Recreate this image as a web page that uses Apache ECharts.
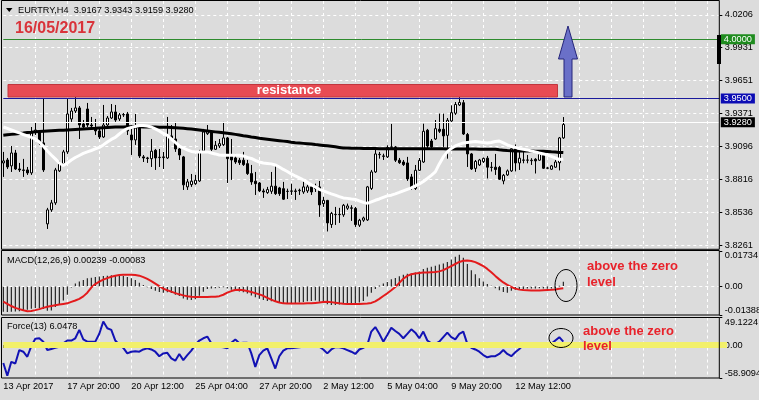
<!DOCTYPE html>
<html>
<head>
<meta charset="utf-8">
<script src="https://cdn.jsdelivr.net/npm/echarts@6.0.0/dist/echarts.min.js"></script>
<style>html,body{margin:0;padding:0;background:#dcdcdc;}#c{width:759px;height:400px;}</style>
</head>
<body>
<div id="c"></div>
<script>
// ---- data (EURTRY H4) ----
const tickLabels = ["13 Apr 2017","17 Apr 20:00","20 Apr 12:00","25 Apr 04:00","27 Apr 20:00","2 May 12:00","5 May 04:00","9 May 20:00","12 May 12:00"];
const priceTicks = [4.0206, 3.9931, 3.9651, 3.9371, 3.9096, 3.8816, 3.8536, 3.8261];
const macdTicks = [-0.01388, 0, 0.01734];
const forceTicks = [-58.9094, 0, 49.1224];
const levelTarget = 4.0000;
const levelResistance = 3.9500;
const lastPrice = 3.9280;

// [open, close, low, high]
const candles = [
[3.8956,3.8973,3.8838,3.9049],[3.8981,3.8922,3.8905,3.8998],[3.8931,3.9040,3.8880,3.9099],[3.9040,3.8905,3.8897,3.9066],
[3.8905,3.8897,3.8880,3.8956],[3.8897,3.8893,3.8838,3.8990],[3.8897,3.8872,3.8855,3.8922],[3.8872,3.9209,3.8855,3.9259],
[3.9217,3.9234,3.9192,3.9293],[3.9217,3.9125,3.9108,3.9234],[3.9125,3.8897,3.8880,3.9504],[3.8442,3.8560,3.8399,3.8577],
[3.8560,3.8619,3.8543,3.8644],[3.8619,3.8897,3.8602,3.8914],[3.8889,3.8956,3.8880,3.8973],[3.8948,3.9049,3.8939,3.9066],
[3.9049,3.9369,3.9032,3.9495],[3.9327,3.9394,3.9302,3.9420],[3.9394,3.9420,3.9377,3.9529],[3.9420,3.9276,3.9158,3.9436],
[3.9285,3.9259,3.9234,3.9318],[3.9411,3.9276,3.9259,3.9462],[3.9276,3.9268,3.9251,3.9344],[3.9243,3.9226,3.9192,3.9327],
[3.9226,3.9175,3.9158,3.9243],[3.9175,3.9276,3.9167,3.9445],[3.9276,3.9335,3.9259,3.9352],[3.9335,3.9386,3.9327,3.9453],
[3.9386,3.9318,3.9302,3.9445],[3.9327,3.9361,3.9310,3.9377],[3.9361,3.9365,3.9344,3.9377],[3.9369,3.9226,3.9192,3.9386],
[3.9192,3.9150,3.9023,3.9276],[3.9150,3.9251,3.9108,3.9369],[3.9259,3.9015,3.8998,3.9276],[3.9007,3.8998,3.8964,3.9023],
[3.8998,3.8994,3.8956,3.9007],[3.8992,3.9055,3.8922,3.9158],[3.9063,3.8998,3.8897,3.9074],[3.9001,3.9004,3.8922,3.9074],
[3.9001,3.9007,3.8905,3.9049],[3.8998,3.9184,3.8990,3.9344],[3.9184,3.9158,3.9141,3.9276],[3.9158,3.9074,3.9049,3.9302],
[3.9074,3.9023,3.8981,3.9082],[3.9007,3.8771,3.8728,3.9015],[3.8754,3.8796,3.8728,3.8821],[3.8773,3.8802,3.8754,3.8863],
[3.8781,3.8810,3.8771,3.8855],[3.8804,3.9049,3.8796,3.9066],[3.9057,3.9217,3.9049,3.9243],[3.9203,3.9226,3.9192,3.9276],
[3.9217,3.9071,3.9057,3.9226],[3.9071,3.9105,3.9066,3.9141],[3.9099,3.9119,3.9082,3.9158],[3.9110,3.9167,3.9099,3.9302],
[3.9167,3.8992,3.8787,3.9175],[3.9015,3.8981,3.8813,3.9158],[3.8998,3.8964,3.8948,3.9032],[3.8979,3.8958,3.8939,3.8998],
[3.8979,3.8942,3.8931,3.9049],[3.8950,3.8866,3.8855,3.8981],[3.8866,3.8796,3.8771,3.8939],[3.8802,3.8781,3.8686,3.8880],
[3.8787,3.8720,3.8711,3.8796],[3.8720,3.8711,3.8661,3.8739],[3.8706,3.8731,3.8695,3.8754],[3.8717,3.8760,3.8695,3.8880],
[3.8760,3.8697,3.8686,3.8931],[3.8745,3.8697,3.8678,3.8754],[3.8739,3.8650,3.8644,3.8796],[3.8717,3.8716,3.8652,3.8739],
[3.8717,3.8720,3.8686,3.8781],[3.8720,3.8716,3.8644,3.8739],[3.8722,3.8726,3.8686,3.8739],[3.8711,3.8754,3.8695,3.8821],
[3.8720,3.8754,3.8703,3.8771],[3.8754,3.8711,3.8686,3.8762],[3.8760,3.8739,3.8711,3.8781],[3.8754,3.8602,3.8501,3.8804],
[3.8613,3.8640,3.8585,3.8669],[3.8640,3.8450,3.8378,3.8644],[3.8437,3.8530,3.8408,3.8543],[3.8520,3.8522,3.8433,3.8585],
[3.8520,3.8522,3.8450,3.8577],[3.8518,3.8599,3.8501,3.8610],[3.8574,3.8593,3.8560,3.8613],[3.8577,3.8574,3.8467,3.8599],
[3.8572,3.8436,3.8416,3.8585],[3.8431,3.8473,3.8416,3.8484],[3.8473,3.8492,3.8459,3.8503],[3.8475,3.8754,3.8467,3.8762],
[3.8741,3.8880,3.8728,3.8897],[3.8880,3.9032,3.8872,3.9091],[3.9026,3.9029,3.8992,3.9049],[3.9015,3.9012,3.8981,3.9034],
[3.9007,3.9087,3.8998,3.9105],[3.9088,3.9091,3.9066,3.9285],[3.9091,3.8979,3.8964,3.9099],[3.8979,3.8958,3.8948,3.8998],
[3.8964,3.8942,3.8931,3.8981],[3.8956,3.8821,3.8804,3.9007],[3.8838,3.8741,3.8728,3.8863],[3.8741,3.8894,3.8728,3.8939],
[3.8894,3.8977,3.8889,3.8998],[3.8964,3.9223,3.8956,3.9287],[3.9232,3.9099,3.9074,3.9243],[3.9141,3.9091,3.9074,3.9158],
[3.9158,3.9245,3.9150,3.9318],[3.9240,3.9223,3.9209,3.9372],[3.9240,3.9184,3.9091,3.9372],[3.9189,3.9316,3.8992,3.9335],
[3.9310,3.9380,3.9302,3.9442],[3.9375,3.9449,3.9361,3.9470],[3.9445,3.9466,3.9436,3.9512],[3.9464,3.9200,3.9192,3.9487],
[3.9196,3.9032,3.8922,3.9209],[3.9032,3.8905,3.8897,3.9040],[3.8910,3.8969,3.8880,3.8981],[3.8939,3.8981,3.8931,3.8990],
[3.8967,3.8994,3.8956,3.9002],[3.8996,3.8920,3.8825,3.9015],[3.8920,3.8918,3.8884,3.8964],[3.8920,3.8901,3.8855,3.9032],
[3.8918,3.8819,3.8813,3.8931],[3.8804,3.8852,3.8776,3.8863],[3.8855,3.8889,3.8846,3.8901],[3.8889,3.9076,3.8880,3.9091],
[3.9074,3.8956,3.8884,3.9112],[3.8956,3.8996,3.8897,3.9066],[3.8981,3.8979,3.8953,3.9066],[3.8979,3.8981,3.8953,3.9023],
[3.8975,3.8979,3.8939,3.8996],[3.8987,3.8973,3.8867,3.8996],[3.8979,3.9032,3.8973,3.9040],[3.9032,3.8911,3.8905,3.9036],
[3.8911,3.8914,3.8903,3.8922],[3.8903,3.8931,3.8897,3.8939],[3.8920,3.8964,3.8914,3.8981],[3.8958,3.9167,3.8893,3.9175],
[3.9167,3.9280,3.9159,3.9343]
];

const maSlow = [
3.9189,3.9193,3.9197,3.9201,3.9205,3.9208,3.9212,3.9215,3.9219,
3.9221,3.9223,3.9225,3.9227,3.9229,3.9231,3.9232,3.9234,
3.9236,3.9238,3.9240,3.9242,3.9244,3.9246,3.9248,3.9251,
3.9253,3.9255,3.9257,3.9259,
3.9260,3.9260,3.9261,3.9261,3.9261,3.9261,3.9260,3.9260,3.9259,3.9259,
3.9258,3.9257,3.9256,3.9254,3.9252,3.9250,3.9248,3.9245,3.9242,3.9238,
3.9234,3.9230,3.9226,3.9222,3.9218,3.9214,3.9210,3.9206,3.9202,
3.9197,3.9192,3.9186,3.9181,3.9175,3.9170,3.9164,
3.9160,3.9156,3.9152,3.9148,3.9144,3.9140,3.9136,3.9131,3.9127,
3.9124,3.9121,3.9118,3.9115,3.9111,3.9108,
3.9104,3.9100,3.9096,3.9092,3.9087,3.9082,
3.9081,3.9080,3.9080,3.9079,3.9078,3.9078,3.9077,3.9077,3.9076,
3.9076,3.9076,3.9076,3.9076,3.9076,3.9076,3.9076,3.9076,3.9076,3.9076,
3.9076,3.9076,3.9075,3.9075,3.9075,3.9075,3.9074,3.9074,3.9074,3.9074,
3.9074,3.9073,3.9073,3.9073,3.9072,3.9072,3.9072,3.9071,3.9071,
3.9067,3.9064,3.9061,3.9059,3.9057,
3.9057,3.9056,3.9056,3.9056,3.9055,3.9055,3.9055,
3.9053,3.9050,3.9048,3.9045,3.9043
];

const maFast = [
3.9259,3.9247,3.9234,3.9221,3.9209,3.9196,3.9184,3.9171,3.9158,3.9133,
3.9099,3.9057,3.9023,3.8990,3.8956,3.8935,3.8956,3.8981,3.9002,3.9019,
3.9036,3.9049,3.9061,3.9074,3.9087,3.9108,3.9133,3.9154,3.9171,3.9200,
3.9226,3.9245,3.9255,3.9264,3.9272,3.9272,3.9268,3.9259,3.9243,3.9226,
3.9205,3.9188,3.9158,3.9129,3.9099,3.9082,3.9066,3.9053,3.9049,3.9049,
3.9049,3.9049,3.9040,3.9032,3.9023,3.9021,3.9021,3.9021,3.9021,3.9021,
3.9015,3.9002,3.8994,3.8977,3.8964,3.8956,3.8952,3.8948,3.8939,3.8922,
3.8901,3.8884,3.8863,3.8846,3.8830,3.8813,3.8792,3.8771,3.8754,3.8733,
3.8720,3.8707,3.8695,3.8684,3.8672,3.8661,3.8657,3.8652,3.8648,3.8636,
3.8623,3.8615,3.8627,3.8641,3.8652,3.8665,3.8678,3.8684,3.8695,3.8707,
3.8720,3.8733,3.8745,3.8762,3.8779,3.8800,3.8825,3.8851,3.8880,3.8948,
3.9007,3.9049,3.9078,3.9099,3.9112,3.9125,3.9129,3.9133,3.9137,3.9133,
3.9129,3.9125,3.9129,3.9137,3.9141,3.9125,3.9108,3.9095,3.9087,3.9078,
3.9071,3.9066,3.9057,3.9049,3.9040,3.9032,3.9023,3.9011,3.8998,3.8985,
3.8990
];

const macdHist = [
-0.0123,-0.0124,-0.0123,-0.0122,-0.0120,-0.0116,-0.0113,-0.0108,-0.0105,-0.0106,
-0.0110,-0.0118,-0.0117,-0.0100,-0.0085,-0.0068,-0.0040,-0.0005,0.0015,0.0025,
0.0032,0.0040,0.0043,0.0046,0.0049,0.0051,0.0053,0.0055,0.0055,0.0054,
0.0052,0.0047,0.0040,0.0032,0.0018,0.0008,-0.0003,-0.0012,-0.0020,-0.0026,
-0.0030,-0.0028,-0.0032,-0.0040,-0.0046,-0.0058,-0.0064,-0.0066,-0.0062,-0.0045,
-0.0025,-0.0012,-0.0010,-0.0008,-0.0006,-0.0004,-0.0010,-0.0016,-0.0020,-0.0024,
-0.0028,-0.0034,-0.0044,-0.0052,-0.0060,-0.0066,-0.0070,-0.0072,-0.0074,-0.0077,
-0.0080,-0.0082,-0.0082,-0.0080,-0.0078,-0.0075,-0.0072,-0.0070,-0.0068,-0.0074,
-0.0078,-0.0086,-0.0090,-0.0090,-0.0088,-0.0085,-0.0083,-0.0080,-0.0082,-0.0078,
-0.0070,-0.0048,-0.0030,-0.0012,0.0005,0.0015,0.0022,0.0035,0.0042,0.0050,
0.0058,0.0062,0.0064,0.0068,0.0074,0.0085,0.0092,0.0096,0.0102,0.0108,
0.0112,0.0120,0.0132,0.0145,0.0155,0.0140,0.0110,0.0080,0.0060,0.0040,
0.0025,0.0012,0.0004,-0.0008,-0.0018,-0.0026,-0.0030,-0.0020,-0.0016,-0.0014,
-0.0012,-0.0010,-0.0010,-0.0010,-0.0008,-0.0010,-0.0011,-0.0010,-0.0008,0.0004,
0.00239
];

const macdSignal = [
-0.0074,-0.0085,-0.0095,-0.0104,-0.0110,-0.0116,-0.0120,-0.0119,-0.0115,-0.0110,
-0.0104,-0.0099,-0.0095,-0.0091,-0.0088,-0.0085,-0.0082,-0.0075,-0.0068,-0.0060,
-0.0048,-0.0030,-0.0005,0.0012,0.0024,0.0034,0.0041,0.0048,0.0053,0.0056,
0.0057,0.0057,0.0057,0.0056,0.0053,0.0046,0.0037,0.0026,0.0014,0.0002,
-0.0010,-0.0018,-0.0025,-0.0032,-0.0038,-0.0043,-0.0047,-0.0050,-0.0051,-0.0051,
-0.0051,-0.0051,-0.0050,-0.0050,-0.0047,-0.0040,-0.0030,-0.0022,-0.0017,-0.0016,
-0.0018,-0.0022,-0.0027,-0.0032,-0.0038,-0.0045,-0.0055,-0.0064,-0.0072,-0.0078,
-0.0082,-0.0083,-0.0083,-0.0083,-0.0083,-0.0083,-0.0082,-0.0082,-0.0080,-0.0078,
-0.0075,-0.0074,-0.0076,-0.0079,-0.0082,-0.0084,-0.0085,-0.0085,-0.0085,-0.0085,
-0.0084,-0.0083,-0.0080,-0.0072,-0.0060,-0.0046,-0.0033,-0.0018,-0.0002,0.0018,
0.0038,0.0052,0.0060,0.0064,0.0066,0.0068,0.0069,0.0070,0.0071,0.0074,
0.0080,0.0090,0.0100,0.0110,0.0120,0.0126,0.0127,0.0125,0.0119,0.0110,
0.0100,0.0086,0.0070,0.0052,0.0035,0.0020,0.0008,-0.0002,-0.0010,-0.0015,
-0.0017,-0.0018,-0.0019,-0.0019,-0.0019,-0.0018,-0.0017,-0.0016,-0.0014,-0.0011,
-0.00083
];

const force = [
-32,-55,-30,-33,-9,-12,-21,-2,11,12,
6,-9,-7,-5,-3,3,8,8,12,27,
10,6,6,6,20,42,30,27,8,0,
-5,-15,-12,-11,-12,-8,-6,-8,-12,-20,
-15,-14,-24,-28,-16,-27,-18,-10,0,8,
12,15,3,-1,-3,-4,-6,4,10,3,
4,4,-15,-39,-18,-10,-6,-24,-42,-20,
-10,-6,-6,-5,-4,-3,-3,-3,-3,-3,
-8,-15,-8,-4,-4,-6,-9,-12,-16,-8,
-5,0,24,32,20,6,18,31,25,20,
12,20,28,22,12,24,8,3,2,6,
14,22,14,10,20,24,2,-5,-8,-12,
-18,-22,-20,-20,-16,-9,-16,-20,-13,-7,
0,1,0,1,1,0,0,2,8,14,
6.0478
];

// ---- chart ----
const FONT = '"Liberation Sans", Arial, sans-serif';
const FS = 9.2;
const barCount = 180;
const cats = Array.from({length: barCount}, (_, i) => String(i));
const labelEvery = 16, gridEvery = 8;
const labelInterval = (idx) => idx % labelEvery === 0 && idx / labelEvery < tickLabels.length;

function xAxisFor(k) {
  const bottom = k === 2;
  return {
    type: 'category', gridIndex: k, data: cats, boundaryGap: false,
    axisLine: {show: false},
    axisTick: {show: bottom, interval: labelInterval, length: 3, lineStyle: {color: '#000'}},
    axisLabel: {show: bottom, interval: labelInterval, align: 'left', margin: 4,
      formatter: (v, idx) => tickLabels[idx / labelEvery] || '',
      color: '#000', fontSize: FS, fontFamily: FONT},
    splitLine: {show: true, interval: (idx) => idx > 0 && idx % gridEvery === 0,
      lineStyle: {color: '#ffffff', type: [3, 3], width: 1}}
  };
}
const yLabelBase = {color: '#000', fontSize: FS, fontFamily: FONT, margin: 5.5};

const option = {
  animation: false,
  backgroundColor: '#dcdcdc',
  grid: [
    {left: 3.3, right: 39.7, top: 1, height: 248, outerBoundsMode: 'none'},
    {left: 3.3, right: 39.7, top: 251, height: 64, outerBoundsMode: 'none'},
    {left: 3.3, right: 39.7, top: 317.5, height: 60.5, outerBoundsMode: 'none'}
  ],
  xAxis: [xAxisFor(0), xAxisFor(1), xAxisFor(2)],
  yAxis: [
    {type: 'value', gridIndex: 0, position: 'right', min: 3.8230, max: 4.0322, scale: true,
      axisLine: {show: false},
      axisTick: {show: true, customValues: priceTicks, length: 3, lineStyle: {color: '#000'}},
      axisLabel: Object.assign({customValues: priceTicks, formatter: v => v.toFixed(4)}, yLabelBase),
      splitLine: {show: true, lineStyle: {color: '#ffffff', type: [3, 3], width: 1}}},
    {type: 'value', gridIndex: 1, position: 'right', min: -0.01388, max: 0.01734,
      axisLine: {show: false},
      axisTick: {show: true, customValues: macdTicks, length: 3, lineStyle: {color: '#000'}},
      axisLabel: Object.assign({customValues: macdTicks, verticalAlignMaxLabel: 'top', verticalAlignMinLabel: 'bottom',
        formatter: v => v === 0 ? '0.00' : v.toFixed(5)}, yLabelBase),
      splitLine: {show: false}},
    {type: 'value', gridIndex: 2, position: 'right', min: -58.9094, max: 49.1224,
      axisLine: {show: false},
      axisTick: {show: true, customValues: forceTicks, length: 3, lineStyle: {color: '#000'}},
      axisLabel: Object.assign({customValues: forceTicks, verticalAlignMaxLabel: 'top', verticalAlignMinLabel: 'bottom',
        formatter: v => v === 0 ? '0.00' : v.toFixed(4)}, yLabelBase),
      splitLine: {show: false}}
  ],
  series: [
    {type: 'candlestick', xAxisIndex: 0, yAxisIndex: 0, data: candles, barWidth: 3, clip: false, z: 2,
      itemStyle: {color: '#ffffff', color0: '#000000', borderColor: '#000000', borderColor0: '#000000', borderWidth: 1},
      markLine: {silent: true, symbol: 'none', animation: false,
        data: [
          {yAxis: levelTarget, lineStyle: {color: '#2e8b2e', width: 1, type: 'solid'},
            label: {show: true, position: 'end', distance: 1.5, formatter: levelTarget.toFixed(4), color: '#fff',
              backgroundColor: '#1f8c1f', padding: [1, 3, 0, 3], fontSize: FS, fontFamily: FONT}},
          {yAxis: levelResistance, lineStyle: {color: '#1a1a9c', width: 1, type: 'solid'},
            label: {show: true, position: 'end', distance: 1.5, formatter: levelResistance.toFixed(4), color: '#fff',
              backgroundColor: '#0c0cb4', padding: [1, 3, 0, 3], fontSize: FS, fontFamily: FONT}},
          {yAxis: lastPrice, lineStyle: {color: '#ffffff', width: 1, type: 'solid'},
            label: {show: true, position: 'end', distance: 1.5, formatter: lastPrice.toFixed(4), color: '#fff',
              backgroundColor: '#000000', padding: [1, 3, 0, 3], fontSize: FS, fontFamily: FONT}}
        ]}},
    {type: 'line', name: 'MA slow', xAxisIndex: 0, yAxisIndex: 0, data: maSlow, showSymbol: false, z: 3,
      lineStyle: {color: '#000000', width: 3}},
    {type: 'line', name: 'MA fast', xAxisIndex: 0, yAxisIndex: 0, data: maFast, showSymbol: false, z: 3,
      lineStyle: {color: '#ffffff', width: 3}},
    {type: 'bar', xAxisIndex: 1, yAxisIndex: 1, data: macdHist, barWidth: 1, itemStyle: {color: '#000000'},
      markLine: {silent: true, symbol: 'none', animation: false, label: {show: false},
        data: [{yAxis: 0, lineStyle: {color: '#ffffff', width: 1, type: [3, 3]}}]}},
    {type: 'line', xAxisIndex: 1, yAxisIndex: 1, data: macdSignal, showSymbol: false, z: 3,
      lineStyle: {color: '#e31a1c', width: 2}},
    {type: 'line', xAxisIndex: 2, yAxisIndex: 2, data: force, showSymbol: false, z: 2,
      lineStyle: {color: '#1212b4', width: 2},
      markLine: {silent: true, symbol: 'none', animation: false, label: {show: false},
        data: [{yAxis: 0, lineStyle: {color: '#f2f06a', width: 6, type: 'solid'}}]}}
  ],
  graphic: [
    // panel borders
    {type: 'rect', z: 50, shape: {x: 1.5, y: 0.5, width: 717.8, height: 248.8}, style: {fill: 'none', stroke: '#000', lineWidth: 1}},
    {type: 'rect', z: 50, shape: {x: 1.5, y: 250.5, width: 717.8, height: 64.5}, style: {fill: 'none', stroke: '#000', lineWidth: 1}},
    {type: 'rect', z: 50, shape: {x: 1.5, y: 317.5, width: 717.8, height: 60.5}, style: {fill: 'none', stroke: '#000', lineWidth: 1}},
    // current bar marker on price scale
    {type: 'rect', z: 51, shape: {x: 717, y: 35, width: 4, height: 29}, style: {fill: '#000'}},
    // yellow stub at force zero label
    {type: 'rect', z: 40, shape: {x: 719, y: 342, width: 8, height: 6}, style: {fill: '#f2f06a'}},
    // header
    {type: 'polygon', z: 60, shape: {points: [[6, 8], [12.5, 8], [9.25, 12]]}, style: {fill: '#000'}},
    {type: 'text', z: 60, style: {x: 18, y: 10.5, text: 'EURTRY,H4  3.9167 3.9343 3.9159 3.9280',
      fill: '#000', font: FS + 'px ' + FONT, verticalAlign: 'middle'}},
    {type: 'text', z: 60, style: {x: 15, y: 29, text: '16/05/2017', fill: '#d9333a',
      font: 'bold 16px ' + FONT, verticalAlign: 'middle'}},
    // resistance band
    {type: 'rect', z: 55, shape: {x: 8, y: 84.5, width: 549.5, height: 12.5}, style: {fill: '#e84b53', stroke: '#c0363e', lineWidth: 1}},
    {type: 'text', z: 56, style: {x: 289, y: 90.5, text: 'resistance', fill: '#ffffff',
      font: 'bold 13px ' + FONT, align: 'center', verticalAlign: 'middle'}},
    // blue up arrow
    {type: 'polygon', z: 56, shape: {points: [[564, 97], [564, 59], [558.5, 59], [568, 26], [577.5, 59], [572, 59], [572, 97]]},
      style: {fill: '#6a70c8', stroke: '#25257a', lineWidth: 1}},
    // indicator captions
    {type: 'text', z: 60, style: {x: 7, y: 260, text: 'MACD(12,26,9) 0.00239 -0.00083', fill: '#000',
      font: FS + 'px ' + FONT, verticalAlign: 'middle'}},
    {type: 'text', z: 60, style: {x: 7, y: 326.5, text: 'Force(13) 6.0478', fill: '#000',
      font: FS + 'px ' + FONT, verticalAlign: 'middle'}},
    // ellipses
    {type: 'ellipse', z: 60, shape: {cx: 566, cy: 285.5, rx: 11, ry: 16}, style: {fill: 'none', stroke: '#000', lineWidth: 1}},
    {type: 'ellipse', z: 60, shape: {cx: 561, cy: 338, rx: 12, ry: 9.5}, style: {fill: 'none', stroke: '#000', lineWidth: 1}},
    // annotations
    {type: 'text', z: 60, style: {x: 587, y: 266.5, text: 'above the zero', fill: '#e8222b',
      font: 'bold 13px ' + FONT, verticalAlign: 'middle'}},
    {type: 'text', z: 60, style: {x: 587, y: 282.5, text: 'level', fill: '#e8222b',
      font: 'bold 13px ' + FONT, verticalAlign: 'middle'}},
    {type: 'text', z: 60, style: {x: 583, y: 331, text: 'above the zero', fill: '#e8222b',
      font: 'bold 13px ' + FONT, verticalAlign: 'middle'}},
    {type: 'text', z: 60, style: {x: 583, y: 346.5, text: 'level', fill: '#e8222b',
      font: 'bold 13px ' + FONT, verticalAlign: 'middle'}}
  ]
};
const chart = echarts.init(document.getElementById('c'), null, {renderer: 'canvas'});
chart.setOption(option);
</script>
</body>
</html>
